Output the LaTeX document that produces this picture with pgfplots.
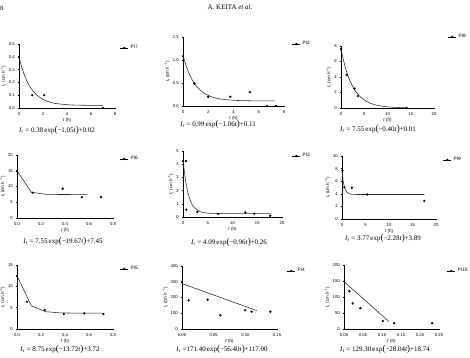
\documentclass[border=0pt]{standalone}
\usepackage{pgfplots}
\pgfplotsset{compat=1.18}
\usepackage{fontspec}
\setmainfont{Liberation Serif}
\newfontfamily\arial{Liberation Sans}
\pgfplotsset{
  panel/.style={
    scale only axis, axis lines=left, axis line style={-, line width=0.5pt},
    xmin=0, ymin=0, anchor=south west, clip=false,
    tick align=outside, major tick length=1.4pt,
    tick style={black, line width=0.4pt},
    tick label style={font=\arial\fontsize{4.2}{5}\selectfont},
    xticklabel style={yshift=0.6pt}, yticklabel style={xshift=0.6pt},
    /pgf/number format/assume math mode=true,
    scaled ticks=false,
    label style={font=\arial\fontsize{4.5}{5}\selectfont},
    xlabel={\textit{t} (h)},
    ylabel={\textit{I}\textsubscript{t} (cm h\textsuperscript{−1})},
    xlabel style={yshift=3.5pt},
    ylabel style={yshift=-4pt},
    legend style={draw=none, fill=none, inner sep=0pt,
      font=\arial\fontsize{4.8}{5.5}\selectfont, anchor=west},
    legend cell align=left,
  },
  pts/.style={only marks, mark=*, mark size=0.95pt, black,
    legend image code/.code={\draw[black, line width=0.5pt] (0mm,0mm)--(2.8mm,0mm); \fill[black] (1.4mm,0mm) circle (0.95pt);}},
  fit/.style={black!85, line width=0.55pt, forget plot, mark=none},
  y1/.style={/pgf/number format/.cd, fixed, fixed zerofill, precision=1},
  x1/.style={/pgf/number format/.cd, fixed, fixed zerofill, precision=1},
  x2/.style={/pgf/number format/.cd, fixed, fixed zerofill, precision=2},
}
\begin{document}
\begin{tikzpicture}[x=1bp,y=1bp]
\path[use as bounding box] (0,0) rectangle (470,357);
% header
\node[font=\fontsize{6.5}{7}\selectfont, anchor=west, inner sep=0pt] at (0,349) {8};
\node[font=\fontsize{7}{8}\selectfont, inner sep=0pt] at (230,350) {A. KEITA \textit{et al.}};

% ---------- Panel 1: PI7
\begin{axis}[panel, at={(19bp,249bp)}, width=96bp, height=64bp,
  xmax=8, ymax=0.5, xtick={0,2,4,6,8}, ytick={0,0.1,0.2,0.3,0.4,0.5},
  yticklabel style={y1},
  legend style={at={(rel axis cs:1,1)}, xshift=5bp, yshift=-4bp}]
\addplot[fit, smooth] coordinates {(0,0.40)(0.25,0.312)(0.5,0.245)(0.75,0.193)(1,0.153)(1.5,0.099)(2,0.067)(2.5,0.048)(3,0.036)(4,0.026)(5,0.022)(6,0.021)(7,0.020)};
\addplot[pts] coordinates {(0,0.40)(1.1,0.10)(2.1,0.10)(7.0,0.0)};
\addlegendentry{PI7}
\end{axis}

% ---------- Panel 2: PI2
\begin{axis}[panel, at={(183bp,251bp)}, width=101bp, height=69bp,
  xmax=8, ymax=1.5, xtick={0,2,4,6,8}, ytick={0,0.5,1.0,1.5},
  yticklabel style={y1},
  legend style={at={(rel axis cs:1,1)}, xshift=8bp, yshift=-7bp}]
\addplot[fit, smooth] coordinates {(0,1.10)(0.25,0.870)(0.5,0.693)(0.75,0.557)(1,0.453)(1.5,0.312)(2,0.229)(2.5,0.180)(3,0.151)(4,0.124)(5,0.115)(6,0.112)(7.3,0.110)};
\addplot[pts] coordinates {(0,1.08)(0.9,0.49)(2.0,0.20)(3.75,0.20)(5.3,0.30)(6.65,0)(7.35,0)};
\addlegendentry{PI2}
\end{axis}

% ---------- Panel 3: PI8
\begin{axis}[panel, at={(341bp,249bp)}, width=93bp, height=62bp,
  xmax=20, ymax=8, xtick={0,5,10,15,20}, ytick={0,2,4,6,8},
  legend style={at={(rel axis cs:1,1)}, xshift=14bp, yshift=9bp}]
\addplot[fit, smooth] coordinates {(0,7.56)(1,5.07)(2,3.40)(3,2.28)(4,1.53)(5,1.03)(6,0.695)(7,0.469)(8,0.318)(10,0.148)(12,0.072)(14.1,0.037)};
\addplot[pts] coordinates {(0,7.6)(1.2,4.25)(2.9,2.5)(3.6,1.55)(14.1,0.0)};
\addlegendentry{PI8}
\end{axis}

% ---------- Panel 4: PI6
\begin{axis}[panel, at={(17bp,139bp)}, width=96bp, height=63bp,
  xmax=0.8, ymax=20, xtick={0,0.2,0.4,0.6,0.8}, ytick={0,5,10,15,20},
  xticklabel style={x1},
  legend style={at={(rel axis cs:1,1)}, xshift=7bp, yshift=-4bp}]
\addplot[fit] coordinates {(0,15.0)(0.12,8.16)(0.24,7.52)(0.36,7.46)(0.48,7.45)(0.586,7.45)};
\addplot[pts] coordinates {(0,15.0)(0.13,8.0)(0.38,9.3)(0.54,6.6)(0.70,6.6)};
\addlegendentry{PI6}
\end{axis}

% ---------- Panel 5: PI3
\begin{axis}[panel, at={(183bp,140bp)}, width=99bp, height=66bp,
  xmax=20, ymax=5, xtick={0,5,10,15,20}, ytick={0,1,2,3,4,5},
  legend style={at={(rel axis cs:1,1)}, xshift=10bp, yshift=-5bp}]
\addplot[fit, smooth] coordinates {(0,4.35)(0.5,2.79)(1,1.83)(1.5,1.23)(2,0.86)(3,0.49)(4,0.348)(5,0.294)(6,0.273)(8,0.262)(12,0.26)(17.6,0.26)};
\addplot[pts] coordinates {(0,4.24)(0.6,4.24)(0.67,0.56)(2.9,0.38)(7.1,0.25)(12.6,0.35)(14.4,0.25)(17.6,0.10)};
\addlegendentry{PI3}
\end{axis}

% ---------- Panel 6: PI9
\begin{axis}[panel, at={(342bp,138bp)}, width=94bp, height=63bp,
  xmax=20, ymax=10, xtick={0,5,10,15,20}, ytick={0,2,4,6,8,10},
  legend style={at={(rel axis cs:1,1)}, xshift=7bp, yshift=-4bp}]
\addplot[fit, smooth] coordinates {(0,7.66)(0.25,6.02)(0.5,5.10)(0.75,4.57)(1,4.28)(1.5,4.01)(2,3.93)(3,3.894)(5,3.89)(17.5,3.89)};
\addplot[pts] coordinates {(0.07,7.7)(0.5,5.03)(2.1,4.97)(5.4,3.9)(17.5,2.86)};
\addlegendentry{PI9}
\end{axis}

% ---------- Panel 7: PI5
\begin{axis}[panel, at={(17bp,28bp)}, width=96bp, height=64bp,
  xmax=0.8, ymax=15, xtick={0,0.2,0.4,0.6,0.8}, ytick={0,5,10,15},
  xticklabel style={x1},
  legend style={at={(rel axis cs:1,1)}, xshift=7bp, yshift=-4bp}]
\addplot[fit] coordinates {(0,12.47)(0.12,5.41)(0.24,4.05)(0.36,3.78)(0.48,3.73)(0.6,3.72)(0.72,3.72)};
\addplot[pts] coordinates {(0,12.4)(0.083,6.4)(0.23,4.45)(0.39,3.5)(0.56,3.66)(0.72,3.5)};
\addlegendentry{PI5}
\end{axis}

% ---------- Panel 8: PI4
\begin{axis}[panel, at={(182bp,28bp)}, width=95bp, height=63bp,
  xmax=0.15, ymax=400, xtick={0,0.05,0.10,0.15}, ytick={0,100,200,300,400},
  xticklabel style={x2},
  legend style={at={(rel axis cs:1,1)}, xshift=10bp, yshift=-5bp}]
\addplot[fit] coordinates {(0,288.4)(0.118,117.2)};
\addplot[pts] coordinates {(0,298)(0.0105,182)(0.0405,186)(0.0605,87)(0.0995,119)(0.11,110)(0.1395,110)};
\addlegendentry{PI4}
\end{axis}

% ---------- Panel 9: PI10
\begin{axis}[panel, at={(344bp,28bp)}, width=95bp, height=64bp,
  xmax=0.25, ymax=200, xtick={0,0.05,0.10,0.15,0.20,0.25}, ytick={0,50,100,150,200},
  xticklabel style={x2},
  legend style={at={(rel axis cs:1,1)}, xshift=8bp, yshift=-6bp}]
\addplot[fit] coordinates {(0,148.0)(0.118,23.5)};
\addplot[pts] coordinates {(0.014,118)(0.023,80)(0.043,65)(0.102,25)(0.132,18)(0.232,18)};
\addlegendentry{PI10}
\end{axis}

% equations
\tikzset{eq/.style={font=\fontsize{7}{8}\selectfont, inner sep=0pt}}
\newcommand{\It}{\textit{I}\textsubscript{\textit{t}}}
\newcommand{\lp}{{\fontsize{9}{9}\selectfont(}}
\newcommand{\rp}{{\fontsize{9}{9}\selectfont)}}
\node[eq] at (57,227) {\It\ = 0.38\,exp\lp−1.05\textit{t}\rp+0.02};
\node[eq] at (218,232.5) {\It\ = 0.99\,exp\lp−1.06\textit{t}\rp+0.11};
\node[eq] at (378,228) {\It\ = 7.55\,exp\lp−0.40\textit{t}\rp+0.01};
\node[eq] at (63,116) {\It\ = 7.55\,exp\lp−19.67\textit{t}\rp+7.45};
\node[eq] at (229,115) {\It\ = 4.09\,exp\lp−0.96\textit{t}\rp+0.26};
\node[eq] at (383,118.5) {\It\ = 3.77\,exp\lp−2.28\textit{t}\rp+3.89};
\node[eq] at (60,8) {\It\ = 8.75\,exp\lp−13.72\textit{t}\rp+3.72};
\node[eq] at (222,8) {\It\ =171.40\,exp\lp−56.40\textit{t}\rp+117.00};
\node[eq] at (385,8) {\It\ = 129.30\,exp\lp−28.04\textit{t}\rp+18.74};
\end{tikzpicture}
\end{document}
